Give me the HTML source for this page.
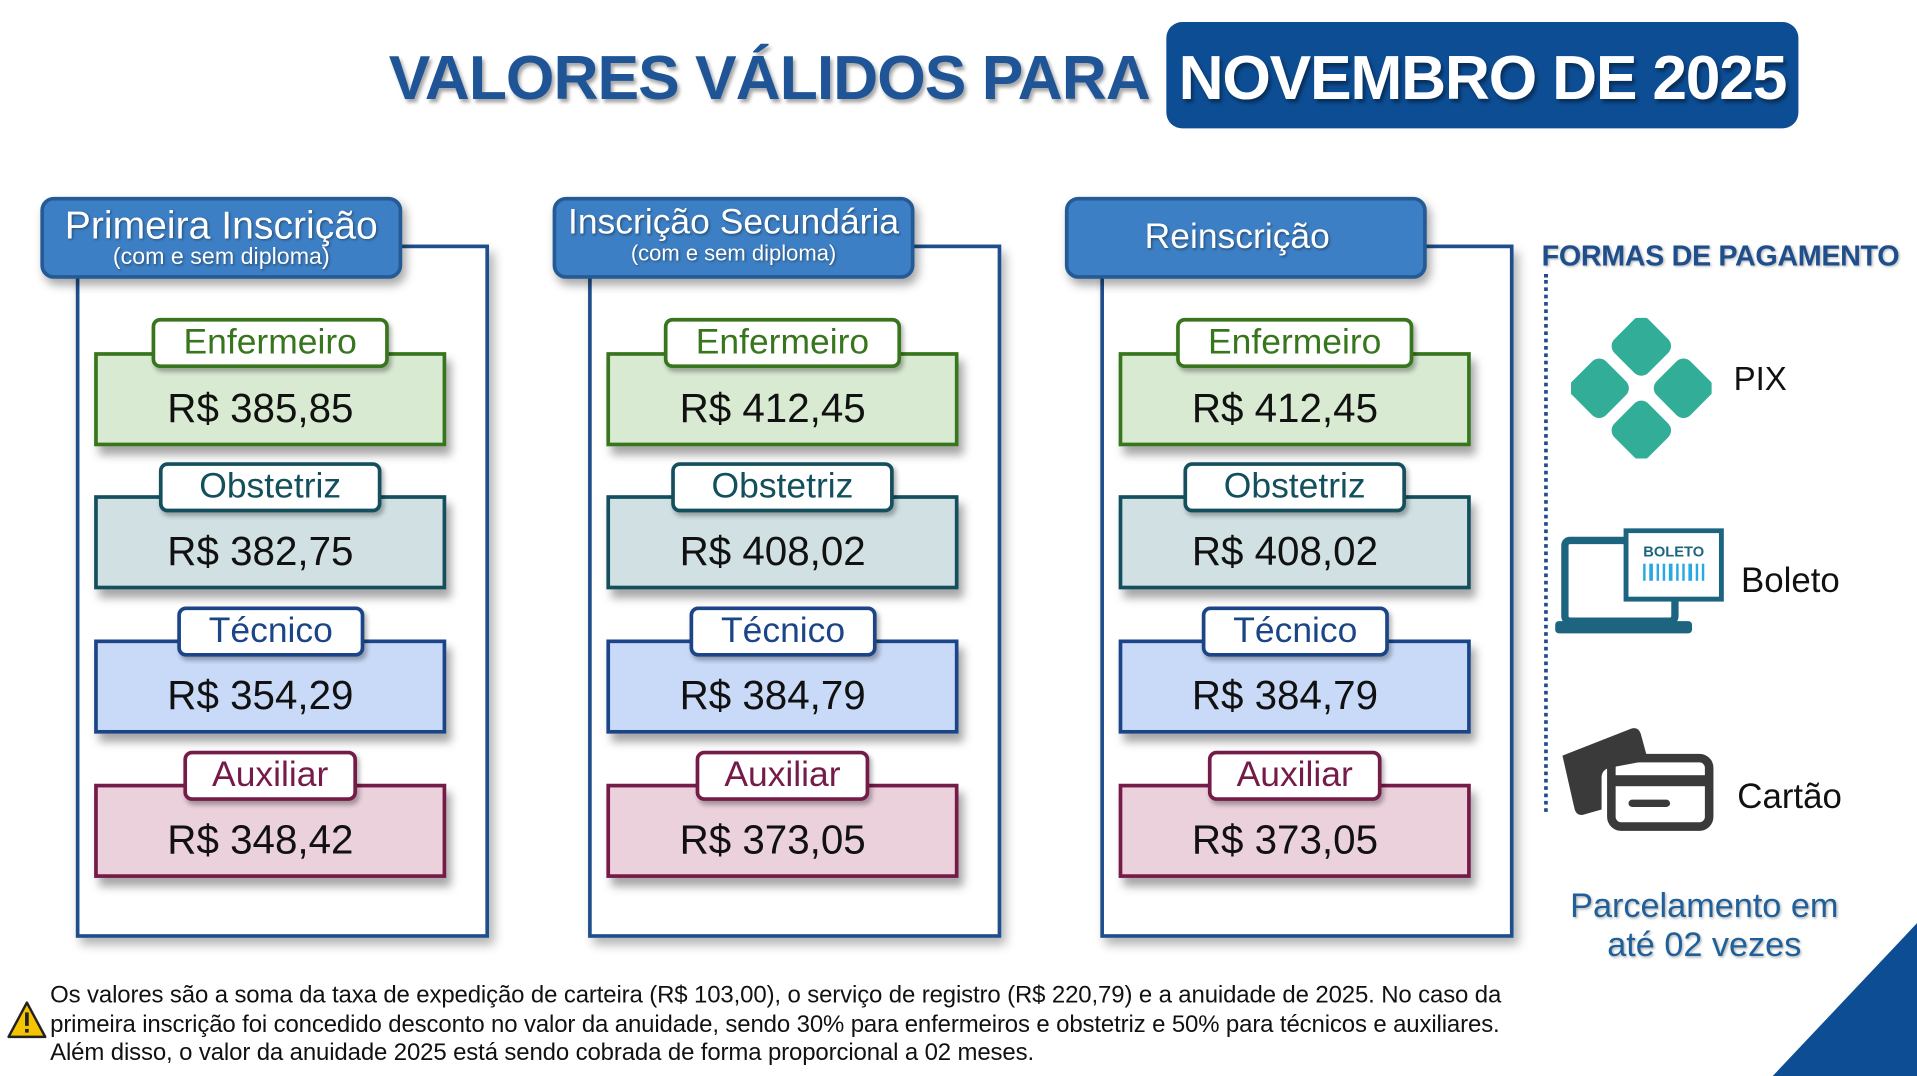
<!DOCTYPE html>
<html><head><meta charset="utf-8"><style>
html,body{margin:0;padding:0;background:#fff;overflow:hidden}
body{width:1917px;height:1076px;position:relative;font-family:"Liberation Sans",sans-serif}
#s{position:absolute;left:0;top:0;width:1568px;height:880px;transform:scale(1.22258,1.22273);transform-origin:0 0}
.a{position:absolute}
.frame{position:absolute;border:3px solid #1f4e8c;box-shadow:4px 6px 8px rgba(0,0,0,.3);background:#fff}
.hdr{position:absolute;background:#3d7fc4;border:3px solid #245a96;border-radius:11px;color:#fff;text-align:center;box-shadow:3px 5px 8px rgba(0,0,0,.35);text-shadow:1px 1px 2px rgba(0,0,0,.4)}
.card{position:absolute;border:3px solid;box-shadow:4px 7px 7px rgba(0,0,0,.35);font-size:33px;color:#111;text-align:center;box-sizing:border-box;padding-right:16px}
.lab{position:absolute;background:#fff;border:3px solid;border-radius:7px;font-size:29px;text-align:center;box-sizing:border-box;line-height:34px;box-shadow:2px 3px 4px rgba(0,0,0,.3);white-space:nowrap}
</style></head><body><div id="s">
<div class="a" style="left:318px;top:34px;font-size:51px;font-weight:bold;color:#1f5597;text-shadow:2px 3px 3px rgba(0,0,0,.35);letter-spacing:-0.8px;white-space:nowrap">VALORES VÁLIDOS PARA</div>
<div class="a" style="left:954px;top:18px;width:517px;height:87px;background:#0d4d94;border-radius:13px"></div>
<div class="a" style="left:954px;top:34px;width:517px;text-align:center;font-size:51px;font-weight:bold;color:#fff;text-shadow:2px 3px 3px rgba(0,0,0,.4);white-space:nowrap;letter-spacing:-1px">NOVEMBRO DE 2025</div>

<div id="cols"></div>

<div class="a" style="left:1261px;top:196px;font-size:23.5px;font-weight:bold;color:#1f4e8c;white-space:nowrap;letter-spacing:-0.3px;text-shadow:1px 1px 2px rgba(0,0,0,.3)">FORMAS DE PAGAMENTO</div>
<div class="a" style="left:1263px;top:224px;height:440px;border-left:3px dotted #1f4e8c"></div>

<svg class="a" style="left:1285px;top:260px" width="115" height="115" viewBox="0 0 100 100">
<g fill="#32ad98">
<rect x="33" y="3" width="34" height="34" rx="7" transform="rotate(45 50 20)"/>
<rect x="33" y="63" width="34" height="34" rx="7" transform="rotate(45 50 80)"/>
<rect x="3" y="33" width="34" height="34" rx="7" transform="rotate(45 20 50)"/>
<rect x="63" y="33" width="34" height="34" rx="7" transform="rotate(45 80 50)"/>
</g></svg>
<div class="a" style="left:1418px;top:295px;font-size:27px;color:#111">PIX</div>

<svg class="a" style="left:1272px;top:432px" width="140" height="88" viewBox="0 0 140 88">
<rect x="8" y="10" width="90" height="66" rx="4" fill="none" stroke="#1d6480" stroke-width="6"/>
<rect x="0" y="76" width="112" height="10" rx="3" fill="#1d6480"/>
<rect x="58" y="2" width="78" height="56" fill="#fff" stroke="#1d6480" stroke-width="4"/>
<text x="97" y="23" font-size="12" font-weight="bold" fill="#1d6480" text-anchor="middle" font-family="Liberation Sans">BOLETO</text>
<g fill="#2aa8e0"><rect x="72" y="29" width="2" height="14"/><rect x="77" y="29" width="3" height="14"/><rect x="83" y="29" width="2" height="14"/><rect x="88" y="29" width="2" height="14"/><rect x="93" y="29" width="3" height="14"/><rect x="99" y="29" width="2" height="14"/><rect x="104" y="29" width="2" height="14"/><rect x="109" y="29" width="3" height="14"/><rect x="115" y="29" width="2" height="14"/><rect x="120" y="29" width="2" height="14"/></g>
</svg>
<div class="a" style="left:1424px;top:459px;font-size:28.5px;color:#111">Boleto</div>

<svg class="a" style="left:1276px;top:588px" width="126" height="92" viewBox="0 0 126 92">
<path d="M2 30 L58 8 Q64 6 66 12 L72 34 L40 40 Q34 42 34 48 L34 74 L20 78 Q14 80 12 74 Z" fill="#3a3a3a"/>
<rect x="42" y="32" width="80" height="56" rx="8" fill="none" stroke="#3a3a3a" stroke-width="7"/>
<rect x="42" y="46" width="80" height="9" fill="#3a3a3a"/>
<rect x="56" y="66" width="34" height="6" rx="3" fill="#3a3a3a"/>
</svg>
<div class="a" style="left:1421px;top:636px;font-size:28.5px;color:#111">Cartão</div>

<div class="a" style="left:1244px;top:725px;width:300px;text-align:center;font-size:28px;line-height:32px;color:#1f5f9a;text-shadow:1px 1px 2px rgba(0,0,0,.3);white-space:nowrap">Parcelamento em<br>até 02 vezes</div>
<svg class="a" style="left:1448px;top:753px" width="120" height="127"><polygon points="2,127 120,2 120,127" fill="#0d4d94"/></svg>

<svg class="a" style="left:5px;top:818px" width="34" height="32" viewBox="0 0 34 32"><polygon points="17,2 32,30 2,30" fill="#f5c400" stroke="#222" stroke-width="2" stroke-linejoin="round"/><rect x="15.5" y="10" width="3" height="11" fill="#222"/><rect x="15.5" y="23.5" width="3" height="3" fill="#222"/></svg>
<div class="a" style="left:41px;top:803px;font-size:19.6px;line-height:23.5px;color:#111;white-space:nowrap;letter-spacing:-0.1px">Os valores são a soma da taxa de expedição de carteira (R$ 103,00), o serviço de registro (R$ 220,79) e a anuidade de 2025. No caso da<br>primeira inscrição foi concedido desconto no valor da anuidade, sendo 30% para enfermeiros e obstetriz e 50% para técnicos e auxiliares.<br>Além disso, o valor da anuidade 2025 está sendo cobrada de forma proporcional a 02 meses.</div>
</div>
<script>
var cols=[
 {h:'<div style="font-size:32px;line-height:34px;padding-top:3px;white-space:nowrap">Primeira Inscrição</div><div style="font-size:19px;line-height:20px">(com e sem diploma)</div>',p:['R$ 385,85','R$ 382,75','R$ 354,29','R$ 348,42']},
 {h:'<div style="font-size:29px;line-height:30px;padding-top:3px;white-space:nowrap">Inscrição Secundária</div><div style="font-size:18px;line-height:20px">(com e sem diploma)</div>',p:['R$ 412,45','R$ 408,02','R$ 384,79','R$ 373,05']},
 {h:'<div style="font-size:29px;line-height:61px;padding-right:14px">Reinscrição</div>',p:['R$ 412,45','R$ 408,02','R$ 384,79','R$ 373,05']}];
var kinds=[
 {n:'Enfermeiro',bg:'#d9ead3',bc:'#38761d',ct:288,lt:260,ll:124,lw:194},
 {n:'Obstetriz',bg:'#d0e0e3',bc:'#134f5c',ct:405,lt:378,ll:130,lw:182},
 {n:'Técnico',bg:'#c9daf8',bc:'#1c4587',ct:523,lt:496,ll:145,lw:153},
 {n:'Auxiliar',bg:'#ead1dc',bc:'#741b47',ct:641,lt:614,ll:150,lw:142}];
var out='';
cols.forEach(function(c,i){var o=i*419;
 out+='<div class="frame" style="left:'+(62+o)+'px;top:200px;width:332px;height:561px"></div>';
 out+='<div class="hdr" style="left:'+(33+o)+'px;top:161px;width:290px;height:61px">'+c.h+'</div>';
 kinds.forEach(function(k,j){
  out+='<div class="card" style="left:'+(77+o)+'px;top:'+k.ct+'px;width:288px;height:77px;background:'+k.bg+';border-color:'+k.bc+';line-height:86px">'+c.p[j]+'</div>';
  out+='<div class="lab" style="left:'+(k.ll+o)+'px;top:'+k.lt+'px;width:'+k.lw+'px;height:41px;border-color:'+k.bc+';color:'+k.bc+'">'+k.n+'</div>';
 });
});
document.getElementById('cols').innerHTML=out;
</script>
</body></html>
